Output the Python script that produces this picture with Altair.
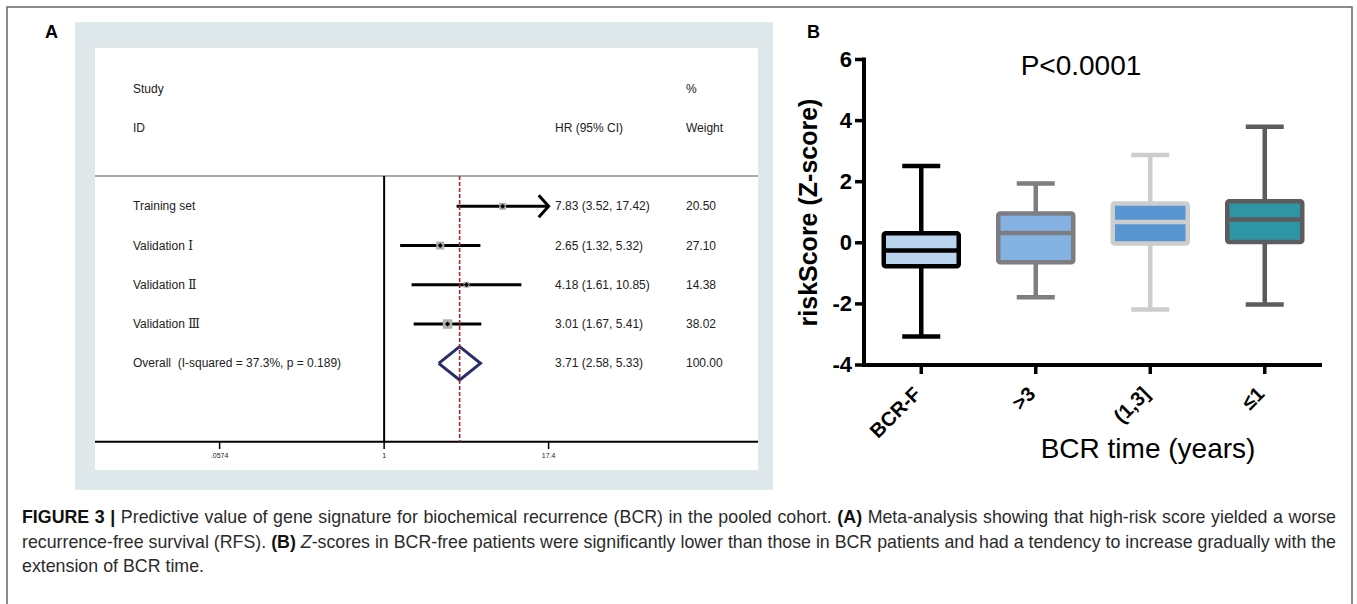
import altair as alt
import pandas as pd

W, H = 1357, 604

# ---------------- Panel A: forest plot data ----------------
study_names = ["Training set", "Validation \u2160", "Validation \u2161", "Validation \u2162"]
study_hr = [7.83, 2.65, 4.18, 3.01]
study_lo = [3.52, 1.32, 1.61, 1.67]
study_hi = [17.42, 5.32, 10.85, 5.41]
study_weight = [20.50, 27.10, 14.38, 38.02]
overall_name = "Overall\u00a0 (I-squared = 37.3%, p = 0.189)"
overall_hr = 3.71
overall_lo = 2.58
overall_hi = 5.33
overall_weight = 100.00
forest_ticks = [0.0574, 1.0, 17.4]
forest_tick_labels = [".0574", "1", "17.4"]
header_top = {"name": "Study", "weight": "%"}
header_bottom = {"name": "ID", "hr": "HR (95% CI)", "weight": "Weight"}

# ---------------- Panel B: box plot data ----------------
groups = ["BCR-F", ">3", "(1,3]", "\u22641"]
box_min = [-3.07, -1.78, -2.18, -2.02]
box_q1 = [-0.77, -0.64, -0.02, 0.03]
box_median = [-0.25, 0.32, 0.68, 0.76]
box_q3 = [0.31, 0.96, 1.29, 1.36]
box_max = [2.51, 1.94, 2.87, 3.80]
b_yticks = [-4, -2, 0, 2, 4, 6]
p_text = "P<0.0001"
b_ytitle = "riskScore (Z-score)"
b_xtitle = "BCR time (years)"

# ---------------- Caption ----------------
caption = [
    [("FIGURE 3 |", "bold", False),
     ("Predictive value of gene signature for biochemical recurrence (BCR) in the pooled cohort.", "normal", False),
     ("(A)", "bold", False),
     ("Meta-analysis showing that high-risk score yielded a worse", "normal", False)],
    [("recurrence-free survival (RFS).", "normal", False),
     ("(B)", "bold", False),
     ("Z", "italic", False),
     ("-scores in BCR-free patients were significantly lower than those in BCR patients and had a tendency to increase gradually with the", "normal", True)],
    [("extension of BCR time.", "normal", False)],
]

# ---------------- styles ----------------
FONT = "Liberation Sans"
FONT_ROMAN = "Liberation Sans, DejaVu Serif, Noto Sans CJK SC"
BOX_FILL = ["#b9d3ee", "#84b3e3", "#5896d3", "#2e95a4"]
BOX_STROKE = ["#000000", "#7d7d82", "#cdcdcd", "#5c5c5e"]
TXT = "#222222"

# Helvetica/Arial advance widths (per 1000 em) for caption layout
REG = {" ": 278, "!": 278, "%": 889, "(": 333, ")": 333, ",": 278, "-": 333, ".": 278,
       "|": 260, ":": 278, ";": 278}
for ch in "0123456789":
    REG[ch] = 556
REG.update(dict(zip("ABCDEFGHIJKLMNOPQRSTUVWXYZ",
                    [667, 667, 722, 722, 667, 611, 778, 722, 278, 500, 667, 556, 833,
                     722, 778, 667, 778, 722, 667, 611, 722, 667, 944, 667, 667, 611])))
REG.update(dict(zip("abcdefghijklmnopqrstuvwxyz",
                    [556, 556, 500, 556, 556, 278, 556, 556, 222, 222, 500, 222, 833,
                     556, 556, 556, 556, 333, 500, 278, 556, 500, 722, 500, 500, 500])))
BOLD = dict(REG)
BOLD.update({"A": 722, "B": 722, "C": 722, "R": 722, "U": 722, "|": 280, "E": 667,
             "F": 611, "G": 778, "I": 278})

CAP_SIZE = 17.8
CAP_X0, CAP_X1 = 22.0, 1336.0


def tw(s, style):
    table = BOLD if style == "bold" else REG
    return sum(table.get(c, 556) for c in s) * CAP_SIZE / 1000.0


cap_rows = []
for li, line in enumerate(caption):
    toks = []
    for seg, style, glue in line:
        for j, wd in enumerate(seg.split(" ")):
            toks.append((wd, style, glue and j == 0))
    space = REG[" "] * CAP_SIZE / 1000.0
    natural = sum(tw(t, s) for t, s, _ in toks)
    gaps = sum(1 for k, (_, _, g) in enumerate(toks) if k > 0 and not g)
    natural += gaps * space
    extra = 0.0
    if li < len(caption) - 1 and gaps > 0:
        extra = (CAP_X1 - CAP_X0 - natural) / gaps
    x = CAP_X0
    for k, (t, s, g) in enumerate(toks):
        if k > 0 and not g:
            x += space + extra
        cap_rows.append({"word": t, "style": s, "line": li, "x": x})
        x += tw(t, s)
cap_df = pd.DataFrame(cap_rows)

one = pd.DataFrame({"k": [0]})
L = []


def prect(x, x2, y, y2, **kw):
    return alt.Chart(one).mark_rect(**kw).encode(
        x=alt.value(x), x2=alt.value(x2), y=alt.value(y), y2=alt.value(y2))


def hrule(x, x2, y, **kw):
    return alt.Chart(one).mark_rule(**kw).encode(x=alt.value(x), x2=alt.value(x2), y=alt.value(y))


def ptext(txt, x, y, **kw):
    return alt.Chart(pd.DataFrame({"t": [txt]})).mark_text(**kw).encode(
        x=alt.value(x), y=alt.value(y), text="t:N")


# ---------------- outer frame ----------------
L.append(prect(7, 1352, 7, 700, fill="white", stroke="#666666", strokeWidth=1.5))

# ---------------- Panel A ----------------
FX = alt.Scale(type="log", domain=[forest_ticks[0], forest_ticks[-1]], range=[219.6, 548.6])
FY = alt.Scale(domain=[0, 4], range=[206.3, 363.3], zero=False, nice=False)
TOP, AXY = 176, 441.7

L.append(prect(75, 773, 22, 490, fill="#dfe8ea"))
L.append(prect(95, 758, 48, 470, fill="white"))
L.append(hrule(95, 758, TOP, color="#aaaaaa", strokeWidth=2))
L.append(hrule(95, 758, AXY, color="black", strokeWidth=2))
L.append(ptext("A", 45, 38, font=FONT, fontSize=18, fontWeight="bold", align="left",
               baseline="alphabetic", color="black"))

fdf = pd.DataFrame({"name": study_names, "hr": study_hr, "lo": study_lo,
                    "hi": study_hi, "weight": study_weight})
fdf["row"] = range(len(fdf))
axis_max = max(forest_ticks)
fdf["hi_draw"] = fdf["hi"].clip(upper=axis_max)

tick_df = pd.DataFrame({"v": forest_ticks, "lab": forest_tick_labels})

# null line
L.append(alt.Chart(pd.DataFrame({"v": [1.0]})).mark_rule(color="black", strokeWidth=2).encode(
    x=alt.X("v:Q", scale=FX, axis=None), y=alt.value(TOP), y2=alt.value(AXY)))
# axis ticks and labels
L.append(alt.Chart(tick_df).mark_rule(color="black", strokeWidth=1.5).encode(
    x=alt.X("v:Q", scale=FX, axis=None), y=alt.value(AXY), y2=alt.value(449)))
L.append(alt.Chart(tick_df).mark_text(font=FONT, fontSize=7, color=TXT, baseline="middle").encode(
    x=alt.X("v:Q", scale=FX, axis=None), y=alt.value(456), text="lab:N"))
# CI lines
L.append(alt.Chart(fdf).mark_rule(color="black", strokeWidth=3).encode(
    x=alt.X("lo:Q", scale=FX, axis=None), x2="hi_draw:Q",
    y=alt.Y("row:Q", scale=FY, axis=None)))
# weight squares
L.append(alt.Chart(fdf).mark_square(color="#b0b0b0", opacity=1).encode(
    x=alt.X("hr:Q", scale=FX, axis=None), y=alt.Y("row:Q", scale=FY, axis=None),
    size=alt.Size("weight:Q", scale=alt.Scale(domain=[0, 40], range=[0, 95]), legend=None)))
# point estimates
L.append(alt.Chart(fdf).mark_point(shape="diamond", filled=True, color="black", size=26, opacity=1).encode(
    x=alt.X("hr:Q", scale=FX, axis=None), y=alt.Y("row:Q", scale=FY, axis=None)))
# arrows for CIs beyond the axis
L.append(alt.Chart(fdf).transform_filter(alt.datum.hi > axis_max).mark_point(
    shape="M-0.9,-1L0,0L-0.9,1", filled=False, color="black", strokeWidth=3,
    size=484, opacity=1, strokeJoin="miter").encode(
    x=alt.X("hi_draw:Q", scale=FX, axis=None), y=alt.Y("row:Q", scale=FY, axis=None)))
# overall diamond
orow = len(study_names)
dh = 0.4255
ddf = pd.DataFrame({"x": [overall_lo, overall_hr, overall_hi, overall_hr, overall_lo],
                    "y": [orow, orow - dh, orow, orow + dh, orow],
                    "o": [0, 1, 2, 3, 4]})
L.append(alt.Chart(ddf).mark_line(color="#2b2d6b", strokeWidth=3, strokeJoin="miter").encode(
    x=alt.X("x:Q", scale=FX, axis=None), y=alt.Y("y:Q", scale=FY, axis=None), order="o:Q"))
# overall effect dashed line
L.append(alt.Chart(pd.DataFrame({"v": [overall_hr]})).mark_rule(
    color="#a3262b", strokeWidth=1.6, strokeDash=[4, 2]).encode(
    x=alt.X("v:Q", scale=FX, axis=None), y=alt.value(TOP), y2=alt.value(AXY)))

# text columns
trows = []
for c, t in header_top.items():
    trows.append({"text": t, "row": -3, "col": c})
for c, t in header_bottom.items():
    trows.append({"text": t, "row": -2, "col": c})
for i in range(len(study_names)):
    trows.append({"text": study_names[i], "row": i, "col": "name"})
    trows.append({"text": f"{study_hr[i]:.2f} ({study_lo[i]:.2f}, {study_hi[i]:.2f})", "row": i, "col": "hr"})
    trows.append({"text": f"{study_weight[i]:.2f}", "row": i, "col": "weight"})
trows.append({"text": overall_name, "row": orow, "col": "name"})
trows.append({"text": f"{overall_hr:.2f} ({overall_lo:.2f}, {overall_hi:.2f})", "row": orow, "col": "hr"})
trows.append({"text": f"{overall_weight:.2f}", "row": orow, "col": "weight"})
tdf = pd.DataFrame(trows)
COL_X = {"name": 133, "hr": 555, "weight": 686}
for c, xp in COL_X.items():
    L.append(alt.Chart(tdf[tdf["col"] == c]).mark_text(
        align="left", baseline="middle", font=FONT_ROMAN, fontSize=12, color=TXT).encode(
        x=alt.value(xp), y=alt.Y("row:Q", scale=FY, axis=None), text="text:N"))

# ---------------- Panel B ----------------
BX = alt.Scale(domain=[-0.5, 3.5], range=[864, 1322], zero=False, nice=False)
BY = alt.Scale(domain=[-4, 6], range=[365, 59.5], zero=False, nice=False)
bdf = pd.DataFrame({"group": groups, "idx": list(range(len(groups))), "wmin": box_min,
                    "q1": box_q1, "med": box_median, "q3": box_q3, "wmax": box_max})
SC = alt.Scale(domain=groups, range=BOX_STROKE)
FC = alt.Scale(domain=groups, range=BOX_FILL)
SW = 4.5
HALF_BOX = 0.3275
HALF_CAP = 0.166

L.append(alt.Chart(bdf).mark_rule(strokeWidth=SW).encode(
    x=alt.X("idx:Q", scale=BX, axis=None), y=alt.Y("wmin:Q", scale=BY, axis=None), y2="wmax:Q",
    color=alt.Color("group:N", scale=SC, legend=None)))
L.append(alt.Chart(bdf).transform_fold(["wmin", "wmax"], as_=["which", "val"]).transform_calculate(
    xa=f"datum.idx - {HALF_CAP}", xb=f"datum.idx + {HALF_CAP}").mark_rule(strokeWidth=SW).encode(
    x=alt.X("xa:Q", scale=BX, axis=None), x2="xb:Q", y=alt.Y("val:Q", scale=BY, axis=None),
    color=alt.Color("group:N", scale=SC, legend=None)))
L.append(alt.Chart(bdf).transform_calculate(
    xa=f"datum.idx - {HALF_BOX}", xb=f"datum.idx + {HALF_BOX}").mark_rect(
    strokeWidth=SW, cornerRadius=2, opacity=1).encode(
    x=alt.X("xa:Q", scale=BX, axis=None), x2="xb:Q",
    y=alt.Y("q1:Q", scale=BY, axis=None), y2="q3:Q",
    fill=alt.Fill("group:N", scale=FC, legend=None),
    stroke=alt.Stroke("group:N", scale=SC, legend=None)))
L.append(alt.Chart(bdf).transform_calculate(
    xa=f"datum.idx - {HALF_BOX}", xb=f"datum.idx + {HALF_BOX}").mark_rule(strokeWidth=SW).encode(
    x=alt.X("xa:Q", scale=BX, axis=None), x2="xb:Q", y=alt.Y("med:Q", scale=BY, axis=None),
    color=alt.Color("group:N", scale=SC, legend=None)))

# axes
ext = pd.DataFrame({"a": [b_yticks[0]], "b": [b_yticks[-1]]})
L.append(alt.Chart(ext).mark_rule(strokeWidth=4, color="black", strokeCap="square").encode(
    x=alt.value(864), y=alt.Y("a:Q", scale=BY, axis=None), y2="b:Q"))
L.append(alt.Chart(ext).mark_rule(strokeWidth=4, color="black").encode(
    x=alt.value(862), x2=alt.value(1322), y=alt.Y("a:Q", scale=BY, axis=None)))
ydf = pd.DataFrame({"v": b_yticks, "lab": [str(v) for v in b_yticks]})
L.append(alt.Chart(ydf).mark_rule(strokeWidth=3.5, color="black").encode(
    x=alt.value(855), x2=alt.value(864), y=alt.Y("v:Q", scale=BY, axis=None)))
L.append(alt.Chart(ydf).mark_text(font=FONT, fontSize=22, fontWeight="bold", align="right",
                                  baseline="middle", color="black").encode(
    x=alt.value(852), y=alt.Y("v:Q", scale=BY, axis=None), text="lab:N"))
L.append(alt.Chart(bdf).mark_rule(strokeWidth=3.5, color="black").encode(
    x=alt.X("idx:Q", scale=BX, axis=None), y=alt.value(365), y2=alt.value(374)))
L.append(alt.Chart(bdf).transform_calculate(lx="datum.idx - 0.03").mark_text(
    font=FONT, fontSize=20, fontWeight="bold", align="right", baseline="middle",
    angle=315, color="black").encode(
    x=alt.X("lx:Q", scale=BX, axis=None), y=alt.value(391), text="group:N"))

L.append(ptext(b_xtitle, 1148, 458, font=FONT, fontSize=28, align="center",
               baseline="alphabetic", color="black"))
L.append(ptext(b_ytitle, 817, 212.5, font=FONT, fontSize=25, fontWeight="bold", align="center",
               baseline="alphabetic", angle=270, color="black"))
L.append(ptext(p_text, 1081, 75, font=FONT, fontSize=28, align="center",
               baseline="alphabetic", color="black"))
L.append(ptext("B", 807, 38, font=FONT, fontSize=18, fontWeight="bold", align="left",
               baseline="alphabetic", color="black"))

# ---------------- caption ----------------
PIX_X = alt.Scale(domain=[0, W], range=[0, W], zero=False, nice=False)
CAP_Y = alt.Scale(domain=[0, 2], range=[523, 572], zero=False, nice=False)
for style, fw, fs, col in [("normal", "normal", "normal", "#2b2b2b"),
                           ("bold", "bold", "normal", "#111111"),
                           ("italic", "normal", "italic", "#2b2b2b")]:
    L.append(alt.Chart(cap_df[cap_df["style"] == style]).mark_text(
        font=FONT, fontSize=CAP_SIZE, fontWeight=fw, fontStyle=fs, align="left",
        baseline="alphabetic", color=col).encode(
        x=alt.X("x:Q", scale=PIX_X, axis=None), y=alt.Y("line:Q", scale=CAP_Y, axis=None),
        text="word:N"))

chart = alt.layer(*L).resolve_scale(
    x="independent", y="independent", color="independent", fill="independent",
    stroke="independent", size="independent").properties(
    width=W, height=H, autosize=alt.AutoSizeParams(type="none"), padding=0,
    background="white").configure_view(stroke=None)

chart.save("out.html", embed_options={"renderer": "svg", "actions": False})
